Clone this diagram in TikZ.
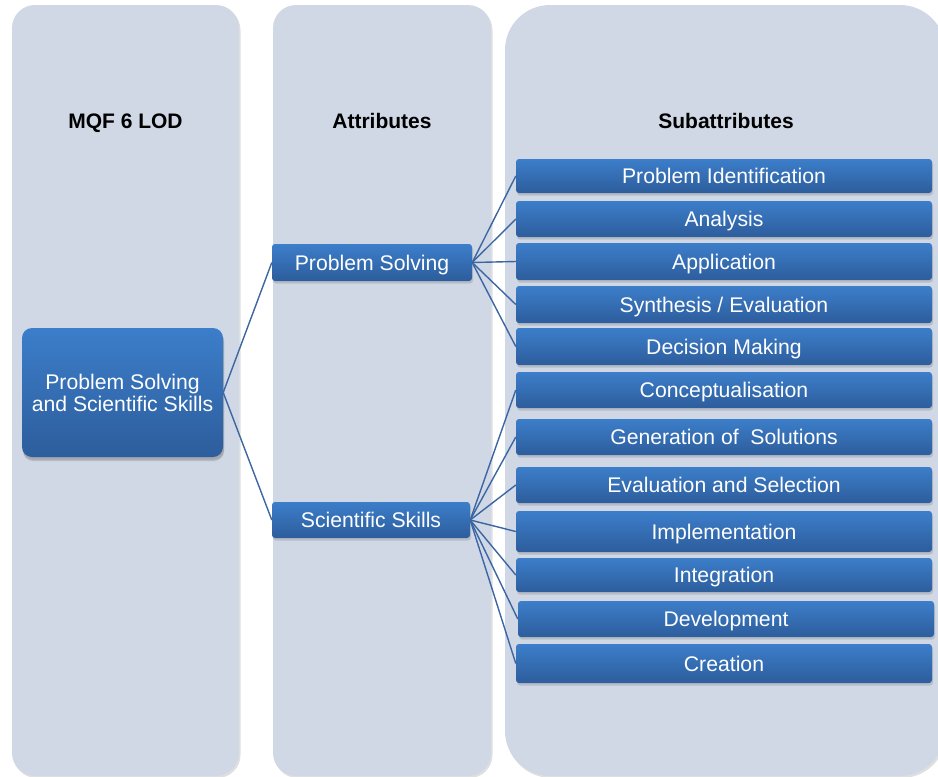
\documentclass[tikz,border=0pt]{standalone}
\usepackage{fontspec}
\setmainfont{Liberation Sans}
\usetikzlibrary{shadows}
\definecolor{colfill}{RGB}{208,216,230}
\definecolor{boxtop}{RGB}{60,126,202}
\definecolor{boxbot}{RGB}{45,93,156}
\definecolor{connc}{RGB}{60,102,162}
\tikzset{
  column/.style={fill=colfill, draw=none, drop shadow={opacity=0.25, shadow xshift=1.5pt, shadow yshift=-2pt}},
  bluebox/.style={rectangle, inner sep=0pt, rounded corners=3pt, top color=boxtop, bottom color=boxbot, draw=none,
    text=white, font=\fontsize{21.2}{22}\selectfont, align=center,
    drop shadow={opacity=0.3, shadow xshift=1pt, shadow yshift=-2.5pt}},
  onetext/.style={text height=16.5pt, text depth=1.5pt},
  subbox/.style={bluebox, onetext, minimum width=416pt, minimum height=35pt},
  attrbox/.style={bluebox, onetext, minimum height=37pt},
  header/.style={font=\bfseries\fontsize{21}{22}\selectfont, text=black, anchor=base, inner sep=0pt}
  ,conn/.style={draw=connc, line width=1.4pt}
}
\begin{document}
\begin{tikzpicture}[x=1pt,y=-1pt]
\useasboundingbox (0,0) rectangle (938,777);
% columns
\fill[column] (12,5) [rounded corners=23pt] -- (239,5) -- (239,776) -- (12,776) -- cycle;
\fill[column] (273,5) [rounded corners=23pt] -- (491,5) -- (491,776) -- (273,776) -- cycle;
\fill[column] (505,5) [rounded corners=45pt] -- (945,5) -- (945,776) -- (505,776) -- cycle;
% headers
\node[header] (h1) at (125.5,128) {MQF 6 LOD};
\node[header] (h2) at (382,128) {Attributes};
\node[header] (h3) at (726,128) {Subattributes};
% main box
\node[bluebox, rounded corners=10pt, minimum width=201pt, minimum height=129pt,
  drop shadow={opacity=0.35, shadow xshift=1pt, shadow yshift=-4pt}] (main) at (122.5,392.5)
  {Problem Solving\\and Scientific Skills};
% attribute boxes
\node[attrbox, minimum width=200pt] (ps) at (372,262.5) {Problem Solving};
\node[attrbox, minimum width=198pt, minimum height=36pt] (ss) at (371,520) {Scientific Skills};
% sub boxes
\node[subbox, minimum height=34pt] (s1) at (724,176) {Problem Identification};
\node[subbox, minimum height=36pt] (s2) at (724,219) {Analysis};
\node[subbox, minimum height=37pt] (s3) at (724,261.5) {Application};
\node[subbox, minimum height=37pt] (s4) at (724,304.5) {Synthesis / Evaluation};
\node[subbox, minimum height=37pt] (s5) at (724,346.5) {Decision Making};
\node[subbox, minimum height=36pt] (s6) at (724,390) {Conceptualisation};
\node[subbox, minimum height=36pt] (s7) at (724,437) {Generation of~~Solutions};
\node[subbox, minimum height=36pt] (s8) at (724,485) {Evaluation and Selection};
\node[subbox, minimum height=41pt] (s9) at (724,531.5) {Implementation};
\node[subbox, minimum height=34pt] (s10) at (724,575) {Integration};
\node[subbox, minimum height=36pt] (s11) at (726,619) {Development};
\node[subbox, minimum height=39pt] (s12) at (724,663.5) {Creation};
% connectors
\draw[conn] (main.east) -- (ps.west);
\draw[conn] (main.east) -- (ss.west);
\foreach \i in {1,...,5} { \draw[conn] (ps.east) -- (s\i.west); }
\foreach \i in {6,...,12} { \draw[conn] (ss.east) -- (s\i.west); }
\end{tikzpicture}
\end{document}
